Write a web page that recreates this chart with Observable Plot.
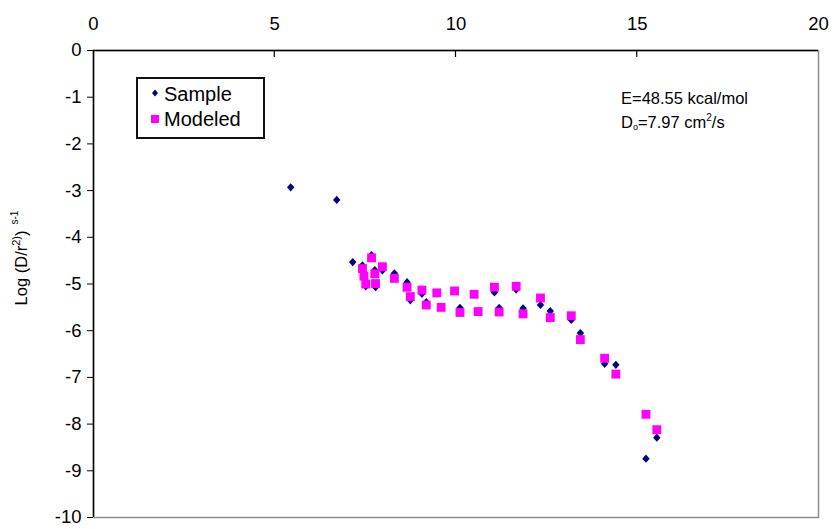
<!DOCTYPE html>
<html>
<head>
<meta charset="utf-8">
<script src="https://cdn.jsdelivr.net/npm/d3@7"></script>
<script src="https://cdn.jsdelivr.net/npm/@observablehq/plot@0.6"></script>
<style>
  body { margin: 0; background: #fff; }
  #chart { position: relative; width: 836px; height: 529px; }
  svg { font-family: "Liberation Sans", Arial, sans-serif; }
</style>
</head>
<body>
<div id="chart"></div>
<script>
const xValues = [5.44, 6.71, 7.15, 7.42, 7.46, 7.51, 7.67, 7.76, 7.78, 7.97, 8.30, 8.65, 8.74, 9.06, 9.18, 9.47, 9.59, 9.96, 10.11, 10.50, 10.61, 11.06, 11.19, 11.66, 11.85, 12.33, 12.60, 13.18, 13.43, 14.10, 14.41, 15.24, 15.54];
const sampleValues = [-2.93, -3.20, -4.53, -4.60, -4.80, -5.05, -4.38, -4.70, -5.07, -4.71, -4.77, -4.96, -5.35, -5.21, -5.39, -5.20, -5.50, -5.15, -5.51, -5.22, -5.59, -5.18, -5.51, -5.12, -5.52, -5.45, -5.58, -5.77, -6.05, -6.71, -6.73, -8.74, -8.29];
const modeledValues = [null, null, null, -4.67, -4.83, -5.00, -4.44, -4.78, -4.99, -4.63, -4.88, -5.07, -5.27, -5.13, -5.45, -5.19, -5.50, -5.15, -5.61, -5.22, -5.59, -5.07, -5.60, -5.05, -5.64, -5.30, -5.72, -5.68, -6.19, -6.59, -6.93, -7.79, -8.12];
const xTicks = [0, 5, 10, 15, 20];
const yTicks = [0, -1, -2, -3, -4, -5, -6, -7, -8, -9, -10];
const seriesNames = ["Sample", "Modeled"];
const seriesColors = ["#000080", "#FF00FF"];
const annotation = ["E=48.55 kcal/mol", "D", "o", "=7.97 cm", "2", "/s"];

const sample = xValues.map((x, i) => ({x, y: sampleValues[i]}));
const modeled = xValues.map((x, i) => ({x, y: modeledValues[i]})).filter(d => d.y != null);

// rhombus marker (like Excel's diamond)
const rhombus = {
  draw(context, size) {
    const w = Math.sqrt(size) * 0.5, h = w * 1.1;
    context.moveTo(0, -h); context.lineTo(w, 0); context.lineTo(0, h); context.lineTo(-w, 0); context.closePath();
  }
};

const plot = Plot.plot({
  width: 836,
  height: 529,
  marginTop: 50,
  marginLeft: 93,
  marginRight: 18,
  marginBottom: 12,
  style: {fontFamily: "Liberation Sans, Arial, sans-serif", background: "#fff"},
  x: {domain: [0, 20]},
  y: {domain: [-10, 0]},
  marks: [
    Plot.frame({stroke: "#8c8c8c", strokeWidth: 1.5}),
    Plot.ruleY([0], {stroke: "#000", strokeWidth: 1.5}),
    Plot.ruleX([0], {stroke: "#000", strokeWidth: 1.5}),
    Plot.axisX({anchor: "top", ticks: xTicks, tickSize: 0, tickPadding: 21, fontSize: 18.5, label: null, color: "#000"}),
    Plot.axisY({ticks: yTicks, tickSize: 6, tickPadding: 6, fontSize: 18.5, label: null, tickFormat: d => String(d), color: "#000"}),
    Plot.dot(sample, {x: "x", y: "y", symbol: rhombus, r: 4.2, fill: seriesColors[0]}),
    Plot.dot(modeled, {x: "x", y: "y", symbol: "square", r: 5, fill: seriesColors[1]})
  ]
});
document.getElementById("chart").appendChild(plot);

const svg = d3.select(plot);
const xs = plot.scale("x"), ys = plot.scale("y");
// inward tick marks on the top axis
svg.append("g").attr("stroke", "#000").attr("stroke-width", 1.2)
  .selectAll("line").data(xTicks.slice(1, 4)).join("line")
  .attr("x1", d => xs.apply(d)).attr("x2", d => xs.apply(d))
  .attr("y1", ys.apply(0)).attr("y2", ys.apply(0) + 7);

// Y axis title
const yl = svg.append("text")
  .attr("transform", "translate(27,258) rotate(-90)")
  .attr("text-anchor", "middle")
  .attr("font-size", 16.5)
  .attr("fill", "#000");
yl.append("tspan").text("Log (D/r");
yl.append("tspan").attr("font-size", 11).attr("dy", -7).text("2)");
yl.append("tspan").attr("dy", 7).text(")");
yl.append("tspan").attr("font-size", 10).attr("dy", -9).attr("dx", 6).text("s-1");

// Legend
const lg = svg.append("g").attr("text-anchor", "start");
lg.append("rect").attr("x", 137).attr("y", 78).attr("width", 127).attr("height", 60)
  .attr("fill", "#fff").attr("stroke", "#111").attr("stroke-width", 2);
lg.append("path").attr("d", "M0,-3.5L3,0L0,3.5L-3,0Z").attr("transform", "translate(155,93)").attr("fill", seriesColors[0]);
lg.append("rect").attr("x", 151).attr("y", 115).attr("width", 8).attr("height", 8).attr("fill", seriesColors[1]);
lg.append("text").attr("x", 164).attr("y", 101).attr("font-size", 20).text(seriesNames[0]);
lg.append("text").attr("x", 164).attr("y", 126).attr("font-size", 20).text(seriesNames[1]);

// Annotation
const an = svg.append("g").attr("text-anchor", "start");
an.append("text").attr("x", 621).attr("y", 104).attr("font-size", 16.5).text(annotation[0]);
const t2 = an.append("text").attr("x", 621).attr("y", 128).attr("font-size", 16.5);
t2.append("tspan").text(annotation[1]);
t2.append("tspan").attr("font-size", 9).attr("dy", 2).text(annotation[2]);
t2.append("tspan").attr("dy", -2).text(annotation[3]);
t2.append("tspan").attr("font-size", 10).attr("dy", -7).text(annotation[4]);
t2.append("tspan").attr("dy", 7).text(annotation[5]);
</script>
</body>
</html>
